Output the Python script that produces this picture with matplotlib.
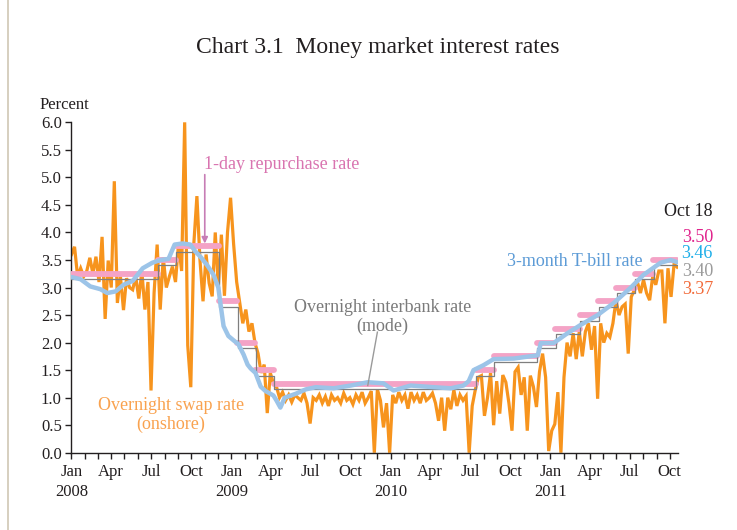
import numpy as np
import pandas as pd
import matplotlib
matplotlib.use('Agg')
import matplotlib.pyplot as plt
import matplotlib.dates as mdates
from matplotlib.ticker import FuncFormatter
from matplotlib.lines import Line2D

plt.rcParams['font.family'] = ['Liberation Serif', 'DejaVu Serif']

# ---------------- data ----------------
# Overnight swap rate (onshore), weekly observations from 2008-01-01
swap_start = '2008-01-01'
swap_values = [
    3.6, 3.74, 3.2, 3.35, 3.2, 3.3, 3.54, 3.25, 3.56, 3.1,
    3.92, 2.43, 3.49, 3.0, 4.93, 2.72, 3.2, 2.59, 3.17, 3.0,
    2.96, 3.2, 2.8, 3.3, 2.6, 3.1, 1.13, 2.9, 3.78, 2.6,
    3.55, 3.0, 3.2, 3.38, 3.1, 3.8, 3.3, 6.0, 1.95, 1.19,
    3.8, 4.66, 3.5, 2.75, 3.6, 3.08, 2.84, 4.0, 3.0, 3.96,
    2.85, 4.0, 4.63, 3.79, 3.1, 2.73, 2.35, 2.6, 2.2, 2.35,
    1.99, 1.8, 1.45, 1.6, 0.72, 1.45, 1.26, 1.2, 1.0, 1.1,
    0.95, 1.05, 0.92, 1.05, 1.0, 0.95, 1.08, 0.9, 0.53, 1.0,
    0.95, 1.05, 0.9, 1.02, 0.85, 1.05, 0.95, 1.0, 0.9, 1.08,
    0.95, 1.0, 0.88, 1.05, 0.95, 1.1, 0.9, 1.0, 1.12, 0.0,
    1.15, 0.95, 0.46, 0.9, 0.0, 1.05, 0.9, 1.1, 0.95, 1.05,
    0.8, 1.1, 0.95, 1.05, 0.9, 1.1, 0.95, 1.0, 1.08, 0.9,
    0.58, 1.0, 0.4, 1.0, 0.79, 1.14, 0.85, 1.05, 0.95, 1.03,
    0.0, 0.85, 1.14, 1.37, 1.4, 0.67, 1.0, 1.45, 0.5, 1.3,
    0.71, 1.41, 1.28, 0.9, 0.4, 1.47, 1.55, 1.05, 1.37, 0.4,
    1.4, 1.2, 0.83, 1.47, 1.8, 1.37, 0.03, 0.4, 0.52, 1.1,
    0.0, 1.37, 2.0, 1.75, 2.17, 1.7, 2.2, 1.75, 2.2, 2.35,
    1.87, 2.3, 0.98, 2.35, 2.0, 2.17, 2.1, 2.35, 2.77, 2.5,
    2.65, 2.7, 1.8, 2.83, 2.95, 3.1, 2.9, 3.14, 2.9, 2.77,
    3.2, 3.05, 3.3, 3.3, 2.35, 3.35, 2.83, 3.43, 3.37,
]

# 3-month T-bill rate
tbill_dates = [
    '2008-01-01', '2008-01-22', '2008-02-13', '2008-03-07', '2008-03-23',
    '2008-04-11', '2008-04-29', '2008-05-20', '2008-06-12', '2008-07-04',
    '2008-07-23', '2008-08-10', '2008-08-24', '2008-09-11', '2008-09-29',
    '2008-10-11', '2008-10-22', '2008-11-07', '2008-11-21', '2008-12-02',
    '2008-12-07', '2008-12-14', '2008-12-25', '2009-01-06', '2009-01-17',
    '2009-01-29', '2009-02-07', '2009-02-14', '2009-02-25', '2009-03-09',
    '2009-03-20', '2009-04-07', '2009-04-14', '2009-04-23', '2009-05-03',
    '2009-05-28', '2009-06-20', '2009-07-13', '2009-08-23', '2009-10-01',
    '2009-11-09', '2009-12-15', '2010-01-07', '2010-02-15', '2010-04-09',
    '2010-05-18', '2010-06-16', '2010-06-28', '2010-07-09', '2010-08-01',
    '2010-08-24', '2010-10-09', '2010-12-03', '2010-12-10', '2011-01-08',
    '2011-02-09', '2011-03-11', '2011-04-19', '2011-05-26', '2011-07-04',
    '2011-08-02', '2011-09-10', '2011-10-03', '2011-10-18',
]
tbill_values = [
    3.19, 3.15, 3.02, 2.97, 2.9,
    2.93, 3.05, 3.12, 3.35, 3.45,
    3.5, 3.52, 3.78, 3.8, 3.78,
    3.65, 3.56, 3.4, 3.23, 3.0,
    2.7, 2.3, 2.12, 2.04, 1.97,
    1.78, 1.6, 1.53, 1.45, 1.2,
    1.12, 1.04, 0.95, 0.82, 1.0,
    1.07, 1.15, 1.19, 1.17, 1.22,
    1.28, 1.26, 1.13, 1.22, 1.19,
    1.17, 1.22, 1.3, 1.5, 1.59,
    1.7, 1.71, 1.77, 1.99, 1.99,
    2.17, 2.32, 2.5, 2.72, 3.0,
    3.23, 3.45, 3.5, 3.46,
]

# 1-day repurchase rate (policy rate), change dates
repo_dates = [
    '2008-01-01', '2008-07-16', '2008-08-27', '2008-12-03', '2009-01-14',
    '2009-02-25', '2009-04-08', '2010-07-14', '2010-08-25', '2010-12-01',
    '2011-01-12', '2011-03-09', '2011-04-20', '2011-06-01', '2011-07-13',
    '2011-08-24', '2011-10-18',
]
repo_rates = [3.25, 3.50, 3.75, 2.75, 2.00, 1.50, 1.25, 1.50, 1.75, 2.00,
              2.25, 2.50, 2.75, 3.00, 3.25, 3.50, 3.50]

# Overnight interbank rate (mode)
interbank_dates = [
    '2008-01-01', '2008-07-17', '2008-08-28', '2008-12-04', '2009-01-15',
    '2009-02-26', '2009-04-09', '2010-07-15', '2010-08-26', '2010-12-02',
    '2011-01-13', '2011-03-10', '2011-04-21', '2011-06-02', '2011-07-14',
    '2011-08-25', '2011-10-18',
]
interbank_rates = [3.15, 3.40, 3.65, 2.65, 1.90, 1.40, 1.15, 1.40, 1.65, 1.90,
                   2.15, 2.40, 2.65, 2.90, 3.15, 3.40, 3.40]

y_ticks = [0.0, 0.5, 1.0, 1.5, 2.0, 2.5, 3.0, 3.5, 4.0, 4.5, 5.0, 5.5, 6.0]
last_labels = ['3.50', '3.46', '3.40', '3.37']

# ---------------- colours ----------------
C_ORANGE = '#F7941D'
C_PINK = '#F4A3C6'
C_BLUE = '#9CC4E8'
C_GRAY = '#7F7F7F'

swap_dates = pd.date_range(swap_start, periods=len(swap_values), freq='7D')
tb_d = pd.to_datetime(tbill_dates)
rp_d = pd.to_datetime(repo_dates)
ib_d = pd.to_datetime(interbank_dates)

fig = plt.figure(figsize=(7.37, 5.30), dpi=100)
ax = fig.add_axes([0.0970, 0.1458, 0.9194 - 0.0970, 0.7692 - 0.1458])

ax.plot(swap_dates, swap_values, color=C_ORANGE, lw=2.3, zorder=2,
        solid_joinstyle='miter')
for i in range(len(rp_d) - 1):
    ax.plot([rp_d[i], rp_d[i + 1]], [repo_rates[i], repo_rates[i]],
            color=C_PINK, lw=4.2, solid_capstyle='round', zorder=3)
ax.step(ib_d, interbank_rates, where='post', color=C_GRAY, lw=0.9, zorder=4)
ax.plot(tb_d, tbill_values, color=C_BLUE, lw=3.2, zorder=5,
        solid_capstyle='round', solid_joinstyle='round')

ax.set_ylim(0, 6.0)
ax.set_xlim(pd.Timestamp('2008-01-01'), pd.Timestamp('2011-10-19'))
ax.set_yticks(y_ticks)
ax.yaxis.set_major_formatter(FuncFormatter(lambda v, p: f'{v:.1f}'))

ax.xaxis.set_major_locator(mdates.MonthLocator(bymonth=[1, 4, 7, 10]))
ax.xaxis.set_minor_locator(mdates.MonthLocator())


def xfmt(v, pos):
    d = mdates.num2date(v)
    s = d.strftime('%b')
    if d.month == 1:
        s += '\n' + str(d.year)
    return s


ax.xaxis.set_major_formatter(FuncFormatter(xfmt))

for s in ['top', 'right']:
    ax.spines[s].set_visible(False)
for s in ['left', 'bottom']:
    ax.spines[s].set_linewidth(1.0)
    ax.spines[s].set_color('#231f20')

ax.tick_params(axis='both', which='both', direction='out', length=4,
               width=1.0, color='#231f20', labelsize=12, labelcolor='#231f20')
ax.tick_params(axis='x', pad=4)
ax.tick_params(axis='y', pad=3)
for lab in ax.get_xticklabels():
    lab.set_linespacing(1.35)

# ---------------- text ----------------
fig.text(378 / 737, 1 - 48 / 530, 'Chart 3.1  Money market interest rates',
         ha='center', va='center', fontsize=17, color='#231f20')
fig.text(40 / 737, 1 - 105 / 530, 'Percent', ha='left', va='center',
         fontsize=12, color='#231f20')

ax.annotate('', xy=(pd.Timestamp('2008-11-01'), 3.80),
            xytext=(pd.Timestamp('2008-11-01'), 5.05),
            arrowprops=dict(arrowstyle='-|>', color='#C77DB5', lw=1.2,
                            mutation_scale=9, shrinkA=0, shrinkB=0), zorder=6)
ax.text(pd.Timestamp('2008-10-30'), 5.24, '1-day repurchase rate',
        color='#D974B0', fontsize=13, ha='left', va='center')

ax.text(pd.Timestamp('2009-12-13'), 2.46, 'Overnight interbank rate\n(mode)',
        color='#7a7a7a', fontsize=13, ha='center', va='center',
        linespacing=1.15)
ax.plot([pd.Timestamp('2009-12-01'), pd.Timestamp('2009-11-09')], [2.19, 1.22],
        color='#9a9a9a', lw=1.0, zorder=6)

ax.text(pd.Timestamp('2008-08-16'), 0.69, 'Overnight swap rate\n(onshore)',
        color='#F9A24F', fontsize=13, ha='center', va='center',
        linespacing=1.15)

ax.text(pd.Timestamp('2011-08-01'), 3.47, '3-month T-bill rate',
        color='#5C9BD6', fontsize=13, ha='right', va='center')

fig.text(713 / 737, 1 - 212 / 530, 'Oct 18', ha='right', va='center',
         fontsize=13, color='#231f20')
label_cols = ['#E0238C', '#1EAEE8', '#9b9b9b', '#F26B3A']
label_ys = [237, 254, 272, 290]
for t, c, yy in zip(last_labels, label_cols, label_ys):
    fig.text(713 / 737, 1 - yy / 530, t, ha='right', va='center',
             fontsize=13, color=c)

# thin frame line on the left edge, as in the source page
fig.add_artist(Line2D([7.5 / 737, 7.5 / 737], [0, 1], transform=fig.transFigure,
                      color='#CFC7B4', lw=1.2))

fig.savefig('out.png', dpi=100)
